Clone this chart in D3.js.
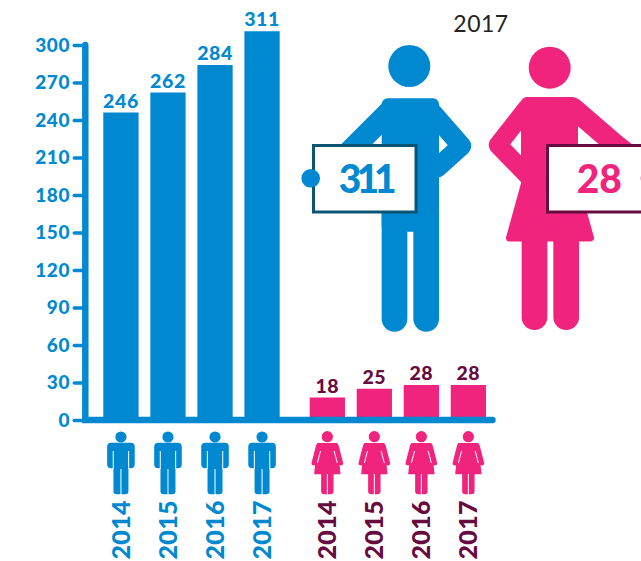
<!DOCTYPE html>
<html>
<head>
<meta charset="utf-8">
<script src="https://cdn.jsdelivr.net/npm/d3@7"></script>
<style>
    html, body { margin: 0; padding: 0; background: #fff; }
    svg { display: block; }
    text { font-family: Lato, "Open Sans", sans-serif; }
</style>
</head>
<body>
<svg id="chart" width="641" height="561"></svg>
<script>
var years = ["2014", "2015", "2016", "2017"];
var menValues = [246, 262, 284, 311];
var womenValues = [18, 25, 28, 28];
var yTicks = [0, 30, 60, 90, 120, 150, 180, 210, 240, 270, 300];
var highlightYear = "2017";

var BLUE = "#0089d1", PINK = "#f0237d", MAROON = "#660a3f", TEAL = "#0b5472";

var svg = d3.select("#chart");

var y = d3.scaleLinear().domain([0, 300]).range([420, 45]);
var xMen = d3.scaleBand().domain(years).range([103.3, 279.7]).paddingInner(0.25);
var xWomen = d3.scaleBand().domain(years).range([309.7, 486]).paddingInner(0.25);

// bars
function bars(scale, values, colour) {
    svg.append("g").selectAll("rect")
        .data(values)
        .enter().append("rect")
            .attr("x", function(d, i) { return scale(years[i]); })
            .attr("y", function(d) { return y(d); })
            .attr("width", scale.bandwidth())
            .attr("height", function(d) { return y(0) - y(d); })
            .attr("fill", colour);
}
bars(xMen, menValues, BLUE);
bars(xWomen, womenValues, PINK);

// value labels
function valueLabels(scale, values, colour) {
    svg.append("g").selectAll("text")
        .data(values)
        .enter().append("text")
            .attr("x", function(d, i) { return scale(years[i]) + scale.bandwidth() / 2; })
            .attr("y", function(d) { return y(d) - 5; })
            .attr("text-anchor", "middle")
            .attr("font-size", 19.5)
            .attr("font-weight", 900)
            .attr("letter-spacing", 0.6)
            .attr("fill", colour)
            .text(function(d) { return d; });
}
valueLabels(xMen, menValues, BLUE);
valueLabels(xWomen, womenValues, MAROON);

// axes
var axisX = 85.3;
var axis = svg.append("g")
    .attr("transform", "translate(" + axisX + ",0)")
    .call(d3.axisLeft(y).tickValues(yTicks).tickSize(11).tickPadding(4));
axis.select(".domain").remove();
axis.selectAll(".tick line").attr("stroke", BLUE).attr("stroke-width", 3.5).attr("stroke-linecap", "round");
axis.selectAll(".tick text")
    .attr("fill", BLUE)
    .attr("font-size", 19)
    .attr("font-weight", 900)
    .attr("letter-spacing", 0.7)
    .style("font-family", "Lato");

svg.append("path")
    .attr("d", d3.line()([[axisX, y(300)], [axisX, y(0)], [492.5, y(0)]]))
    .attr("fill", "none")
    .attr("stroke", BLUE)
    .attr("stroke-width", 6.4)
    .attr("stroke-linejoin", "miter")
    .attr("stroke-linecap", "round");

// small pictograms under the axis
function smallMan(g) {
    g.append("circle").attr("cy", 437).attr("r", 5.6).attr("fill", BLUE);
    g.append("rect").attr("x", -13.8).attr("y", 442.7).attr("width", 27.6).attr("height", 25.6).attr("rx", 4).attr("fill", BLUE);
    g.append("rect").attr("x", -7.5).attr("y", 450).attr("width", 15).attr("height", 44.3).attr("rx", 3).attr("fill", BLUE);
    [[-7.7, 451, -7.7, 469], [7.7, 451, 7.7, 469], [0, 469, 0, 495]].forEach(function(l) {
        g.append("line").attr("x1", l[0]).attr("y1", l[1]).attr("x2", l[2]).attr("y2", l[3])
            .attr("stroke", "#fff").attr("stroke-width", 1);
    });
}

function smallWoman(g) {
    g.append("circle").attr("cy", 436.7).attr("r", 5.6).attr("fill", PINK);
    [-1, 1].forEach(function(s) {
        g.append("path")
            .attr("d", d3.line()([[s * 9, 446], [s * 13.4, 463]]))
            .attr("stroke", PINK).attr("stroke-width", 4.8).attr("stroke-linecap", "round").attr("fill", "none");
    });
    g.append("path")
        .attr("d", d3.line()([[-10, 443], [10, 443], [13.2, 474.3], [-13.2, 474.3]]) + "Z")
        .attr("fill", PINK);
    g.append("rect").attr("x", -6.2).attr("y", 470).attr("width", 12.4).attr("height", 24.3).attr("rx", 3).attr("fill", PINK);
    [-1, 1].forEach(function(s) {
        g.append("line").attr("x1", s * 6.8).attr("y1", 451).attr("x2", s * 10).attr("y2", 463)
            .attr("stroke", "#fff").attr("stroke-width", 1);
    });
    g.append("line").attr("x1", 0).attr("y1", 474).attr("x2", 0).attr("y2", 495).attr("stroke", "#fff").attr("stroke-width", 1);
}

function icons(scale, draw) {
    svg.append("g").selectAll("g")
        .data(years)
        .enter().append("g")
            .attr("transform", function(d) { return "translate(" + (scale(d) + scale.bandwidth() / 2) + ",0)"; })
            .each(function() { draw(d3.select(this)); });
}
icons(xMen, smallMan);
icons(xWomen, smallWoman);

// rotated year labels
function yearLabels(scale, colour) {
    svg.append("g").selectAll("text")
        .data(years)
        .enter().append("text")
            .attr("transform", function(d) { return "translate(" + (scale(d) + scale.bandwidth() / 2 + 9) + ",500) rotate(-90)"; })
            .attr("text-anchor", "end")
            .attr("font-size", 25)
            .attr("font-weight", 900)
            .attr("letter-spacing", 0.4)
            .attr("fill", colour)
            .text(function(d) { return d; });
}
yearLabels(xMen, BLUE);
yearLabels(xWomen, MAROON);

// big figures
svg.append("text")
    .attr("x", 481).attr("y", 32)
    .attr("text-anchor", "middle")
    .attr("font-size", 23)
    .attr("fill", "#222")
    .attr("letter-spacing", 0.5)
    .text(highlightYear);

function thick(g, pts, w, colour) {
    g.append("path")
        .attr("d", d3.line()(pts))
        .attr("fill", "none")
        .attr("stroke", colour)
        .attr("stroke-width", w)
        .attr("stroke-linecap", "round")
        .attr("stroke-linejoin", "round");
}

// man
var man = svg.append("g");
man.append("circle").attr("cx", 409.3).attr("cy", 66).attr("r", 21).attr("fill", BLUE);
man.append("rect").attr("x", 381.7).attr("y", 98.3).attr("width", 57.3).attr("height", 133.4).attr("rx", 6).attr("fill", BLUE);
thick(man, [[391, 110], [345, 156]], 22, BLUE);
thick(man, [[430, 110], [461.5, 146], [437, 168]], 19.5, BLUE);
thick(man, [[394.5, 215], [394.5, 318.8]], 25.7, BLUE);
thick(man, [[426.2, 215], [426.2, 318.8]], 25.7, BLUE);

// woman
var woman = svg.append("g");
woman.append("circle").attr("cx", 549.7).attr("cy", 67.7).attr("r", 21).attr("fill", PINK);
woman.append("rect").attr("x", 521).attr("y", 97).attr("width", 57).attr("height", 100).attr("rx", 6).attr("fill", PINK);
thick(woman, [[527, 108], [498, 145], [530, 178]], 18.5, PINK);
thick(woman, [[573, 108], [613.5, 143], [650, 172]], 21, PINK);
woman.append("path")
    .attr("d", d3.line()([[525, 182], [575, 182], [590.5, 238], [509.5, 238]]) + "Z")
    .attr("fill", PINK).attr("stroke", PINK).attr("stroke-width", 7).attr("stroke-linejoin", "round");
thick(woman, [[534.5, 235], [534.5, 317.2]], 25.7, PINK);
thick(woman, [[566.2, 235], [566.2, 317.2]], 25.7, PINK);

// boards
function board(x, w, stroke, colour, value, dotX, spacing) {
    svg.append("rect")
        .attr("x", x).attr("y", 145.5).attr("width", w).attr("height", 66.5)
        .attr("fill", "#fff").attr("stroke", stroke).attr("stroke-width", 3);
    svg.append("circle").attr("cx", dotX).attr("cy", 178.3).attr("r", 9.3).attr("fill", colour);
    svg.append("text")
        .attr("x", x + w / 2 + 0.5).attr("y", 192.5)
        .attr("text-anchor", "middle")
        .attr("font-size", 39)
        .attr("font-weight", 900)
        .attr("letter-spacing", spacing)
        .attr("fill", colour)
        .text(value);
}
board(313.5, 102.5, TEAL, BLUE, menValues[years.indexOf(highlightYear)], 310.7, -5);
board(547.5, 102.5, MAROON, PINK, womenValues[years.indexOf(highlightYear)], 650, 0);
</script>
</body>
</html>
